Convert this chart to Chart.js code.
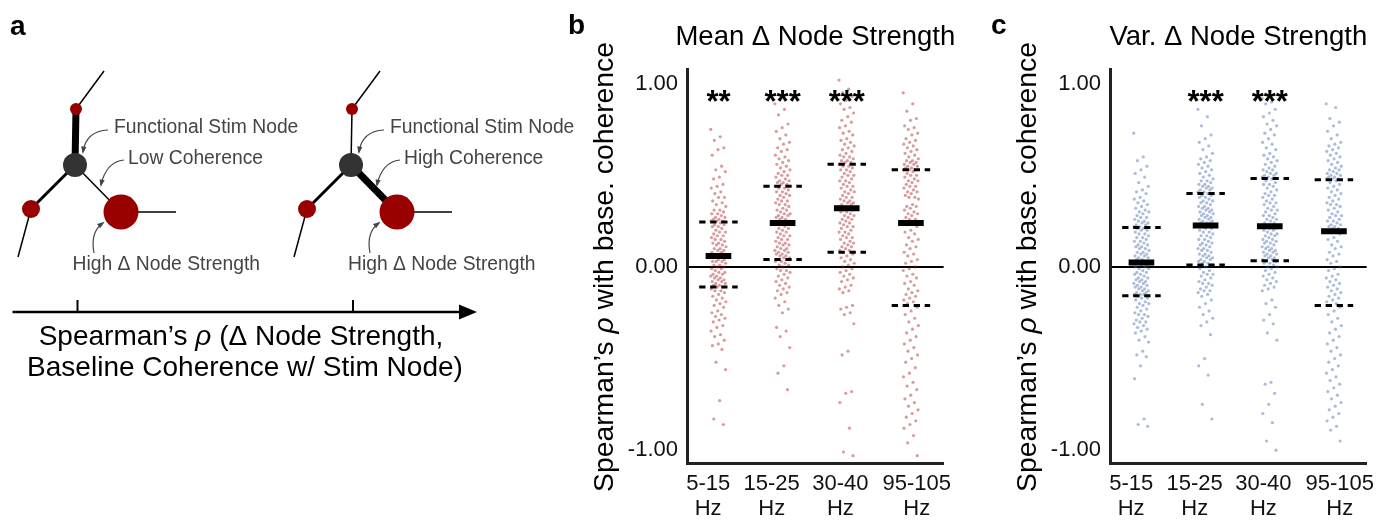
<!DOCTYPE html>
<html>
<head>
<meta charset="utf-8">
<script src="https://cdn.jsdelivr.net/npm/chart.js@4.4.1/dist/chart.umd.min.js"></script>
<style>
  body { margin: 0; background: #fff; width: 1395px; height: 521px; position: relative; overflow: hidden; }
  canvas { position: absolute; top: 0; }
</style>
</head>
<body>
<canvas id="net" width="600" height="521" style="left:0"></canvas>
<canvas id="meanChart" width="400" height="521" style="left:560px"></canvas>
<canvas id="varChart" width="400" height="521" style="left:983px"></canvas>
<script>
  const FONT = '"Liberation Sans", Arial, Helvetica, sans-serif';

  // frequency bands on the x axis
  const bands = ['5-15', '15-25', '30-40', '95-105'];
  const yTicks = [-1, 0, 1];

  // Spearman rho per subject, mean delta node strength (panel b)
  const mean5_15 = [0.75, 0.71, 0.69, 0.65, 0.64, 0.61, 0.55, 0.53, 0.52, 0.49, 0.48, 0.45, 0.44, 0.43, 0.41, 0.40, 0.38, 0.38, 0.36, 0.35, 0.34, 0.33, 0.31, 0.31, 0.30, 0.29, 0.29, 0.28, 0.27, 0.27, 0.26, 0.26, 0.25, 0.25, 0.25,
    0.24, 0.23, 0.23, 0.22, 0.22, 0.21, 0.20, 0.19, 0.19, 0.18, 0.17, 0.17, 0.16, 0.15, 0.15, 0.14, 0.13, 0.13, 0.12, 0.12, 0.11, 0.10, 0.10, 0.09, 0.09, 0.08, 0.08, 0.07, 0.07, 0.07, 0.06, 0.06, 0.06, 0.06,
    0.05, 0.05, 0.04, 0.04, 0.03, 0.03, 0.03, 0.02, 0.01, 0.01, 0.00, 0.00, -0.01, -0.01, -0.02, -0.03, -0.03, -0.04, -0.04, -0.05, -0.05, -0.06, -0.06, -0.07, -0.07, -0.08, -0.08, -0.09, -0.09, -0.10, -0.10, -0.11, -0.11,
    -0.12, -0.13, -0.13, -0.14, -0.15, -0.16, -0.17, -0.18, -0.19, -0.20, -0.21, -0.22, -0.24, -0.25, -0.26, -0.27, -0.28, -0.29, -0.30, -0.32, -0.33, -0.35, -0.37, -0.38, -0.40, -0.42, -0.43, -0.45, -0.52, -0.56, -0.73, -0.83, -0.86];
  const mean15_25 = [0.89, 0.86, 0.83, 0.78, 0.76, 0.74, 0.72, 0.70, 0.68, 0.67, 0.65, 0.64, 0.63, 0.61, 0.60, 0.59, 0.58, 0.57, 0.56, 0.55, 0.54, 0.53, 0.52, 0.51, 0.50, 0.50, 0.49, 0.48, 0.47, 0.47, 0.46, 0.46, 0.45, 0.45, 0.44,
    0.43, 0.43, 0.42, 0.41, 0.41, 0.40, 0.39, 0.39, 0.38, 0.37, 0.36, 0.36, 0.35, 0.34, 0.34, 0.33, 0.32, 0.31, 0.31, 0.30, 0.29, 0.29, 0.28, 0.28, 0.27, 0.27, 0.26, 0.26, 0.25, 0.25, 0.24, 0.24,
    0.23, 0.23, 0.22, 0.21, 0.21, 0.20, 0.19, 0.19, 0.18, 0.17, 0.17, 0.16, 0.15, 0.15, 0.14, 0.13, 0.13, 0.12, 0.12, 0.11, 0.10, 0.10, 0.09, 0.09, 0.08, 0.08, 0.07, 0.07, 0.06, 0.06, 0.05, 0.05, 0.04, 0.04,
    0.03, 0.03, 0.02, 0.01, 0.01, 0.00, -0.01, -0.02, -0.02, -0.03, -0.04, -0.05, -0.06, -0.07, -0.08, -0.09, -0.10, -0.11, -0.12, -0.13, -0.14, -0.15, -0.17, -0.19, -0.21, -0.23, -0.25, -0.33, -0.35, -0.38, -0.44, -0.54, -0.58, -0.67];
  const mean30_40 = [1.02, 0.97, 0.95, 0.93, 0.91, 0.89, 0.87, 0.86, 0.84, 0.82, 0.80, 0.79, 0.77, 0.76, 0.74, 0.73, 0.72, 0.70, 0.69, 0.68, 0.67, 0.66, 0.65, 0.64, 0.63, 0.62, 0.61, 0.60, 0.60, 0.59, 0.58, 0.58, 0.57, 0.57, 0.56,
    0.55, 0.55, 0.54, 0.53, 0.53, 0.52, 0.51, 0.50, 0.50, 0.49, 0.48, 0.47, 0.47, 0.46, 0.45, 0.44, 0.44, 0.43, 0.42, 0.41, 0.41, 0.40, 0.39, 0.38, 0.38, 0.37, 0.36, 0.36, 0.35, 0.35, 0.34, 0.34, 0.33, 0.33, 0.32,
    0.31, 0.31, 0.30, 0.30, 0.29, 0.28, 0.28, 0.27, 0.26, 0.26, 0.25, 0.24, 0.24, 0.23, 0.22, 0.22, 0.21, 0.20, 0.19, 0.19, 0.18, 0.17, 0.16, 0.16, 0.15, 0.14, 0.13, 0.13, 0.12, 0.11, 0.11, 0.10, 0.09, 0.09, 0.08,
    0.07, 0.06, 0.05, 0.04, 0.03, 0.02, 0.01, 0.00, -0.01, -0.02, -0.03, -0.04, -0.05, -0.06, -0.07, -0.08, -0.10, -0.11, -0.12, -0.13, -0.14, -0.21, -0.22, -0.23, -0.25, -0.26, -0.31, -0.46, -0.48, -0.68, -0.69, -0.74, -0.88, -1.01, -1.03];
  const mean95_105 = [0.95, 0.89, 0.85, 0.81, 0.80, 0.77, 0.76, 0.75, 0.73, 0.72, 0.70, 0.69, 0.68, 0.67, 0.66, 0.65, 0.64, 0.63, 0.62, 0.61, 0.60, 0.59, 0.58, 0.58, 0.57, 0.57, 0.56, 0.56, 0.55, 0.55, 0.54, 0.54, 0.53, 0.53, 0.53,
    0.52, 0.51, 0.50, 0.50, 0.49, 0.48, 0.47, 0.47, 0.46, 0.45, 0.44, 0.44, 0.43, 0.42, 0.41, 0.41, 0.40, 0.39, 0.38, 0.38, 0.37, 0.34, 0.33, 0.33, 0.32, 0.31, 0.30, 0.29, 0.29, 0.28, 0.27, 0.26, 0.26, 0.25, 0.24,
    0.23, 0.22, 0.20, 0.19, 0.18, 0.16, 0.15, 0.14, 0.12, 0.11, 0.10, 0.08, 0.07, 0.06, 0.04, 0.03, 0.02, 0.00, -0.01, -0.02, -0.04, -0.05, -0.06, -0.08, -0.09, -0.10, -0.12, -0.13, -0.14, -0.15, -0.16, -0.17, -0.18, -0.19, -0.20,
    -0.22, -0.24, -0.26, -0.28, -0.30, -0.32, -0.34, -0.36, -0.38, -0.40, -0.42, -0.44, -0.46, -0.48, -0.50, -0.52, -0.55, -0.58, -0.60, -0.63, -0.65, -0.67, -0.70, -0.72, -0.74, -0.76, -0.78, -0.80, -0.82, -0.84, -0.86, -0.88, -0.92, -0.96, -1.03];
  const meanMedian = [0.06, 0.24, 0.32, 0.24];
  const meanQ1 = [-0.11, 0.04, 0.08, -0.21];
  const meanQ3 = [0.245, 0.44, 0.56, 0.53];
  const meanStars = ['**', '***', '***', ''];

  // Spearman rho per subject, variance of delta node strength (panel c)
  const var5_15 = [0.73, 0.60, 0.58, 0.55, 0.53, 0.51, 0.49, 0.46, 0.44, 0.42, 0.41, 0.40, 0.38, 0.37, 0.36, 0.35, 0.34, 0.33, 0.32, 0.31, 0.30, 0.30, 0.29, 0.28, 0.27, 0.27, 0.26, 0.25, 0.25, 0.24, 0.24, 0.23, 0.23, 0.22, 0.22,
    0.21, 0.21, 0.20, 0.20, 0.19, 0.18, 0.18, 0.17, 0.16, 0.16, 0.15, 0.14, 0.14, 0.13, 0.12, 0.12, 0.11, 0.11, 0.10, 0.10, 0.09, 0.08, 0.08, 0.07, 0.07, 0.06, 0.06, 0.05, 0.05, 0.04, 0.04, 0.03, 0.03, 0.03, 0.02,
    0.02, 0.01, 0.01, 0.00, 0.00, -0.01, -0.01, -0.02, -0.03, -0.03, -0.04, -0.04, -0.05, -0.06, -0.06, -0.07, -0.07, -0.08, -0.08, -0.09, -0.09, -0.10, -0.10, -0.11, -0.11, -0.12, -0.12, -0.13, -0.13, -0.14, -0.14, -0.15, -0.15, -0.15, -0.16,
    -0.17, -0.17, -0.18, -0.19, -0.20, -0.20, -0.21, -0.22, -0.23, -0.24, -0.25, -0.26, -0.26, -0.27, -0.28, -0.29, -0.30, -0.30, -0.31, -0.32, -0.33, -0.34, -0.35, -0.36, -0.38, -0.40, -0.41, -0.46, -0.48, -0.49, -0.54, -0.61, -0.83, -0.86, -0.87];
  const var15_25 = [0.86, 0.82, 0.77, 0.72, 0.70, 0.68, 0.66, 0.64, 0.62, 0.60, 0.59, 0.58, 0.57, 0.56, 0.55, 0.54, 0.53, 0.52, 0.51, 0.50, 0.49, 0.48, 0.47, 0.47, 0.46, 0.45, 0.45, 0.44, 0.44, 0.43, 0.43, 0.42, 0.42, 0.41, 0.41,
    0.40, 0.39, 0.39, 0.38, 0.38, 0.37, 0.36, 0.36, 0.35, 0.35, 0.34, 0.33, 0.33, 0.32, 0.32, 0.31, 0.31, 0.30, 0.30, 0.29, 0.29, 0.28, 0.28, 0.27, 0.27, 0.26, 0.26, 0.25, 0.25, 0.24, 0.24, 0.24, 0.23, 0.23, 0.23,
    0.22, 0.21, 0.21, 0.20, 0.19, 0.19, 0.18, 0.17, 0.17, 0.16, 0.15, 0.15, 0.14, 0.13, 0.13, 0.12, 0.12, 0.11, 0.10, 0.10, 0.09, 0.09, 0.08, 0.07, 0.07, 0.06, 0.06, 0.05, 0.05, 0.04, 0.04, 0.03, 0.03, 0.02, 0.02,
    0.01, 0.00, -0.01, -0.02, -0.03, -0.04, -0.04, -0.05, -0.06, -0.07, -0.08, -0.09, -0.09, -0.10, -0.11, -0.12, -0.13, -0.13, -0.14, -0.15, -0.16, -0.18, -0.20, -0.22, -0.24, -0.26, -0.28, -0.30, -0.32, -0.37, -0.50, -0.54, -0.59, -0.75, -0.83];
  const var30_40 = [0.92, 0.90, 0.89, 0.86, 0.84, 0.82, 0.80, 0.78, 0.77, 0.75, 0.73, 0.72, 0.70, 0.68, 0.67, 0.65, 0.64, 0.62, 0.61, 0.60, 0.59, 0.58, 0.57, 0.56, 0.55, 0.54, 0.53, 0.53, 0.52, 0.51, 0.51, 0.50, 0.50, 0.49, 0.49,
    0.48, 0.47, 0.46, 0.45, 0.45, 0.44, 0.43, 0.42, 0.41, 0.40, 0.39, 0.39, 0.38, 0.37, 0.36, 0.35, 0.35, 0.34, 0.33, 0.32, 0.31, 0.31, 0.30, 0.29, 0.28, 0.28, 0.27, 0.26, 0.26, 0.25, 0.24, 0.24, 0.23, 0.23, 0.22,
    0.22, 0.21, 0.21, 0.20, 0.20, 0.19, 0.18, 0.18, 0.17, 0.17, 0.16, 0.15, 0.15, 0.14, 0.14, 0.13, 0.13, 0.12, 0.11, 0.11, 0.10, 0.10, 0.09, 0.09, 0.08, 0.08, 0.07, 0.07, 0.06, 0.06, 0.05, 0.05, 0.04, 0.04, 0.03,
    0.03, 0.02, 0.02, 0.01, 0.00, 0.00, -0.01, -0.02, -0.03, -0.04, -0.05, -0.06, -0.07, -0.08, -0.09, -0.10, -0.11, -0.12, -0.13, -0.18, -0.20, -0.22, -0.26, -0.29, -0.31, -0.36, -0.40, -0.63, -0.64, -0.69, -0.75, -0.80, -0.85, -0.95, -1.00];
  const var95_105 = [0.89, 0.87, 0.81, 0.79, 0.77, 0.74, 0.72, 0.70, 0.68, 0.67, 0.66, 0.65, 0.64, 0.63, 0.62, 0.61, 0.60, 0.59, 0.58, 0.57, 0.56, 0.55, 0.54, 0.53, 0.53, 0.52, 0.51, 0.51, 0.50, 0.50, 0.49, 0.49, 0.48, 0.48, 0.48,
    0.47, 0.46, 0.45, 0.44, 0.43, 0.42, 0.41, 0.40, 0.39, 0.38, 0.37, 0.36, 0.35, 0.34, 0.34, 0.33, 0.32, 0.31, 0.30, 0.29, 0.28, 0.28, 0.27, 0.26, 0.25, 0.25, 0.24, 0.23, 0.23, 0.22, 0.22, 0.21, 0.21, 0.20, 0.20,
    0.19, 0.18, 0.16, 0.15, 0.14, 0.12, 0.11, 0.10, 0.08, 0.07, 0.06, 0.04, 0.03, 0.02, 0.00, -0.01, -0.02, -0.04, -0.05, -0.06, -0.07, -0.08, -0.09, -0.10, -0.11, -0.12, -0.13, -0.14, -0.15, -0.16, -0.17, -0.18, -0.19, -0.20, -0.21,
    -0.22, -0.24, -0.26, -0.28, -0.30, -0.32, -0.34, -0.36, -0.38, -0.40, -0.42, -0.44, -0.46, -0.48, -0.50, -0.52, -0.54, -0.56, -0.58, -0.60, -0.62, -0.64, -0.66, -0.68, -0.70, -0.72, -0.74, -0.76, -0.78, -0.80, -0.82, -0.84, -0.87, -0.89, -0.95];
  const varMedian = [0.024, 0.226, 0.222, 0.195];
  const varQ1 = [-0.157, 0.01, 0.033, -0.211];
  const varQ3 = [0.215, 0.40, 0.483, 0.475];
  const varStars = ['', '***', '***', ''];

  // schematic network in panel a (two copies: low / high coherence edge)
  const nodeX = [75, 76, 31, 121, 351, 352, 307, 397];
  const nodeY = [165, 109, 209, 212, 165, 109, 209, 212];
  const nodeR = [12, 6, 9, 17.5, 12, 6, 9, 17.5];
  const nodeFill = ['#333', '#990000', '#990000', '#990000', '#333', '#990000', '#990000', '#990000'];
  const stubX = [104, 18, 176, 380, 294, 452];
  const stubY = [71, 257, 212, 71, 257, 212];
  // edges: [from node, to node or stub (s#), width]
  const edges = [[1, 's0', 1.5], [1, 0, 7], [0, 2, 3], [0, 3, 1.5], [2, 's1', 1.5], [3, 's2', 1.5],
                 [5, 's3', 1.5], [5, 4, 1.5], [4, 6, 3], [4, 7, 7], [6, 's4', 1.5], [7, 's5', 1.5]];

  // small style helpers (layout only)
  const labelNudge = [-0.16, -0.17, -0.1, 0.09];
  const jitter = j => (((j * 0.6180339887) % 1) - 0.5) * 0.24;

  function drawRich(ctx, parts, x, y, size) {
    let total = 0;
    parts.forEach(p => {
      ctx.font = `${p[1] || ''} ${size}px ${FONT}`;
      total += ctx.measureText(p[0]).width;
    });
    let cx = x - total / 2;
    ctx.textAlign = 'left';
    parts.forEach(p => {
      ctx.font = `${p[1] || ''} ${size}px ${FONT}`;
      ctx.fillText(p[0], cx, y);
      cx += ctx.measureText(p[0]).width;
    });
  }

  function arrow(ctx, a) {
    const [sx, sy, cx, cy, ex, ey] = a;
    ctx.beginPath();
    ctx.moveTo(sx, sy);
    ctx.quadraticCurveTo(cx, cy, ex, ey);
    ctx.stroke();
    const ang = Math.atan2(ey - cy, ex - cx);
    ctx.beginPath();
    ctx.moveTo(ex + Math.cos(ang) * 2, ey + Math.sin(ang) * 2);
    ctx.lineTo(ex - Math.cos(ang - 0.45) * 6, ey - Math.sin(ang - 0.45) * 6);
    ctx.lineTo(ex - Math.cos(ang + 0.45) * 6, ey - Math.sin(ang + 0.45) * 6);
    ctx.closePath();
    ctx.fill();
  }

  const annoText = ['Functional Stim Node', 'Low Coherence', 'High Δ Node Strength', 'Functional Stim Node', 'High Coherence', 'High Δ Node Strength'];
  const annoX = [114, 128, 72.5, 390, 404, 348];
  const annoY = [128, 159, 265, 128, 159, 265];
  const annoArrows = [[108, 130, 86, 131, 83, 152], [124, 160, 106, 162, 101, 185], [94, 253, 90, 232, 103, 223],
                      [384, 130, 362, 131, 359, 152], [400, 160, 382, 162, 377, 185], [370, 253, 366, 232, 379, 223]];

  const netLabels = {
    id: 'netLabels',
    afterDraw(chart) {
      const { ctx } = chart;
      const px = v => chart.scales.x.getPixelForValue(v);
      const py = v => chart.scales.y.getPixelForValue(v);
      ctx.save();
      ctx.fillStyle = '#000';
      ctx.font = `bold 28px ${FONT}`;
      ctx.textBaseline = 'alphabetic';
      ctx.fillText('a', 10, 35);

      ctx.fillStyle = '#444';
      ctx.strokeStyle = '#444';
      ctx.lineWidth = 1.2;
      ctx.font = `19.3px ${FONT}`;
      ctx.textBaseline = 'middle';
      annoText.forEach((t, i) => ctx.fillText(t, px(annoX[i]), py(annoY[i])));
      annoArrows.forEach(a => arrow(ctx, [px(a[0]), py(a[1]), px(a[2]), py(a[3]), px(a[4]), py(a[5])]));

      // rank axis with arrow
      ctx.strokeStyle = '#000';
      ctx.fillStyle = '#000';
      ctx.lineWidth = 2.5;
      ctx.beginPath();
      ctx.moveTo(px(12.5), py(312));
      ctx.lineTo(px(462), py(312));
      ctx.stroke();
      ctx.beginPath();
      ctx.moveTo(px(477), py(312));
      ctx.lineTo(px(459), py(304.5));
      ctx.lineTo(px(459), py(319.5));
      ctx.closePath();
      ctx.fill();
      ctx.lineWidth = 2;
      [77.5, 353].forEach(t => {
        ctx.beginPath();
        ctx.moveTo(px(t), py(300));
        ctx.lineTo(px(t), py(312));
        ctx.stroke();
      });
      ctx.textBaseline = 'middle';
      drawRich(ctx, [['Spearman’s '], ['ρ', 'italic'], [' (Δ Node Strength,']], px(241), py(337), 28);
      drawRich(ctx, [['Baseline Coherence w/ Stim Node)']], px(245), py(368), 28);
      ctx.restore();
    }
  };

  const edgeSets = edges.map(e => {
    const a = { x: nodeX[e[0]], y: nodeY[e[0]] };
    const b = typeof e[1] === 'string'
      ? { x: stubX[+e[1].slice(1)], y: stubY[+e[1].slice(1)] }
      : { x: nodeX[e[1]], y: nodeY[e[1]] };
    return {
      type: 'line', data: [a, b], borderColor: '#000', borderWidth: e[2],
      pointRadius: 0, fill: false, order: 1, borderCapStyle: 'butt'
    };
  });

  new Chart(document.getElementById('net'), {
    type: 'scatter',
    data: {
      datasets: [...edgeSets, {
        data: nodeX.map((x, i) => ({ x: x, y: nodeY[i] })),
        pointRadius: nodeR,
        pointHoverRadius: nodeR,
        pointBackgroundColor: nodeFill,
        pointBorderWidth: 0,
        order: 0
      }]
    },
    options: {
      responsive: false,
      animation: false,
      layout: { padding: 0, autoPadding: false },
      scales: {
        x: { type: 'linear', display: false, min: 0, max: 600 },
        y: { type: 'linear', display: false, min: 0, max: 521, reverse: true }
      },
      plugins: { legend: { display: false }, tooltip: { enabled: false } }
    },
    plugins: [netLabels]
  });

  const panelText = {
    id: 'panelText',
    afterDraw(chart, args, opts) {
      const { ctx, chartArea, scales } = chart;
      ctx.save();
      ctx.fillStyle = '#000';
      ctx.textBaseline = 'alphabetic';
      ctx.textAlign = 'left';
      ctx.font = `bold 28px ${FONT}`;
      ctx.fillText(opts.letter, 8, 34);

      ctx.textBaseline = 'middle';
      ctx.textAlign = 'center';
      ctx.font = `27.5px ${FONT}`;
      ctx.fillText(opts.title, (chartArea.left + chartArea.right) / 2, 37);

      // significance stars
      ctx.font = `bold 31px ${FONT}`;
      ctx.textBaseline = 'alphabetic';
      const m = ctx.measureText('*');
      const shift = (m.actualBoundingBoxAscent - m.actualBoundingBoxDescent) / 2;
      opts.stars.forEach((s, i) => {
        if (!s) return;
        ctx.fillText(s, scales.x.getPixelForValue(i), scales.y.getPixelForValue(0.93) + shift);
      });

      ctx.translate(45, (chartArea.top + chartArea.bottom) / 2 + 1);
      ctx.rotate(-Math.PI / 2);
      ctx.textBaseline = 'middle';
      drawRich(ctx, [['Spearman’s '], ['ρ', 'italic'], [' with base. coherence']], 0, 0, 28.3);
      ctx.restore();
    }
  };

  function stripPanel(id, cols, med, q1, q3, stars, title, letter, dot) {
    const dots = [];
    cols.forEach((vals, i) => vals.forEach((v, j) => dots.push({ x: i + jitter(j), y: v })));
    const medSeg = [];
    const qSeg = [];
    bands.forEach((b, i) => {
      medSeg.push({ x: i - 0.2, y: med[i] }, { x: i + 0.2, y: med[i] }, { x: i + 0.5, y: null });
      qSeg.push({ x: i - 0.3, y: q3[i] }, { x: i + 0.3, y: q3[i] }, { x: i + 0.4, y: null });
      qSeg.push({ x: i - 0.3, y: q1[i] }, { x: i + 0.3, y: q1[i] }, { x: i + 0.5, y: null });
    });

    return new Chart(document.getElementById(id), {
      type: 'scatter',
      data: {
        datasets: [
          { data: dots, pointRadius: 1.6, pointHoverRadius: 1.6, pointBackgroundColor: dot, pointBorderWidth: 0, order: 3 },
          { type: 'line', data: qSeg, borderColor: '#000', borderWidth: 3, borderDash: [6.3, 4.7], pointRadius: 0, spanGaps: false, fill: false, order: 1, borderCapStyle: 'butt' },
          { type: 'line', data: medSeg, borderColor: '#000', borderWidth: 6, pointRadius: 0, spanGaps: false, fill: false, order: 0, borderCapStyle: 'butt' }
        ]
      },
      options: {
        responsive: false,
        animation: false,
        layout: { padding: { top: 69, right: 10, left: 0, bottom: 0 }, autoPadding: false },
        scales: {
          x: {
            type: 'linear', min: -0.49, max: 3.51,
            afterBuildTicks: s => { s.ticks = bands.map((b, i) => ({ value: i + labelNudge[i] })); },
            afterFit: s => { s.height = 58; },
            ticks: {
              autoSkip: false, maxRotation: 0, minRotation: 0, padding: 8, color: '#111',
              font: { family: FONT, size: 22, lineHeight: 1.14 },
              callback: (v, idx) => [bands[idx], 'Hz']
            },
            grid: { display: false, drawTicks: false },
            border: { display: true, width: 3, color: '#222' }
          },
          y: {
            type: 'linear', min: -1.07, max: 1.08,
            afterBuildTicks: s => { s.ticks = yTicks.map(v => ({ value: v })); },
            afterFit: s => { s.width = 127; },
            ticks: { padding: 9, color: '#111', font: { family: FONT, size: 22 }, callback: v => v.toFixed(2) },
            grid: {
              drawTicks: false, lineWidth: 2,
              color: c => (c.tick && c.tick.value === 0 ? '#000' : 'rgba(0,0,0,0)')
            },
            border: { display: true, width: 3, color: '#222' }
          }
        },
        plugins: {
          legend: { display: false },
          tooltip: { enabled: false },
          panelText: { letter: letter, title: title, stars: stars }
        }
      },
      plugins: [panelText]
    });
  }

  stripPanel('meanChart', [mean5_15, mean15_25, mean30_40, mean95_105], meanMedian, meanQ1, meanQ3, meanStars,
    'Mean Δ Node Strength', 'b', 'rgba(165,20,20,0.42)');
  stripPanel('varChart', [var5_15, var15_25, var30_40, var95_105], varMedian, varQ1, varQ3, varStars,
    'Var. Δ Node Strength', 'c', 'rgba(55,95,170,0.42)');
</script>
</body>
</html>
